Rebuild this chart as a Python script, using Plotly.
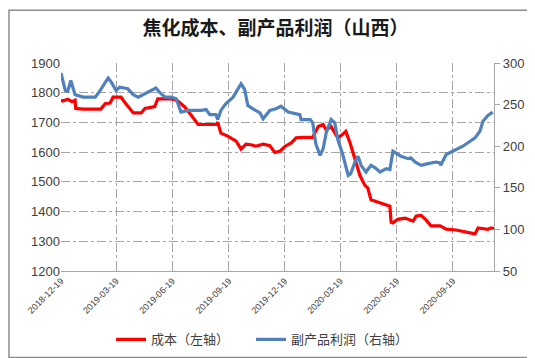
import plotly.graph_objects as go

# ---- data ----
cost_dates = [
    "2018-12-19", "2018-12-22", "2018-12-30", "2019-01-06", "2019-01-11", "2019-01-12",
    "2019-01-24", "2019-02-09", "2019-02-22", "2019-03-01", "2019-03-09", "2019-03-14",
    "2019-03-27", "2019-04-02", "2019-04-11", "2019-04-16", "2019-04-29", "2019-05-05",
    "2019-05-21", "2019-05-26", "2019-06-17", "2019-06-23", "2019-06-28", "2019-07-09",
    "2019-07-19", "2019-07-31", "2019-08-16", "2019-08-29", "2019-09-01", "2019-09-06",
    "2019-09-18", "2019-10-01", "2019-10-09", "2019-10-17", "2019-10-25", "2019-11-02",
    "2019-11-14", "2019-11-25", "2019-12-03", "2019-12-12", "2019-12-20", "2019-12-30",
    "2020-01-07", "2020-01-18", "2020-02-03", "2020-02-12", "2020-02-20", "2020-02-25",
    "2020-03-04", "2020-03-10", "2020-03-15", "2020-03-23", "2020-03-28", "2020-04-04",
    "2020-04-09", "2020-04-14", "2020-04-20", "2020-04-28", "2020-05-03", "2020-05-08",
    "2020-05-16", "2020-05-24", "2020-05-31", "2020-06-08", "2020-06-10", "2020-06-13",
    "2020-06-21", "2020-07-03", "2020-07-11", "2020-07-16", "2020-07-21", "2020-07-29",
    "2020-08-06", "2020-08-14", "2020-08-29", "2020-09-08", "2020-09-24", "2020-10-10",
    "2020-10-25", "2020-10-30", "2020-11-07", "2020-11-15", "2020-11-20", "2020-11-25",
]
cost_values = [
    1775, 1772, 1778, 1770, 1775, 1747,
    1745, 1745, 1745, 1763, 1765, 1785,
    1785, 1768, 1742, 1732, 1732, 1747,
    1753, 1779, 1779, 1777, 1772, 1752,
    1726, 1693, 1693, 1693, 1700, 1664,
    1653, 1637, 1610, 1627, 1625, 1620,
    1627, 1622, 1599, 1604, 1620, 1631,
    1648, 1650, 1650, 1686, 1693, 1675,
    1686, 1664, 1648, 1660, 1670, 1631,
    1599, 1566, 1522, 1489, 1479, 1440,
    1435, 1429, 1423, 1418, 1364, 1362,
    1374, 1378, 1372, 1368, 1385, 1387,
    1372, 1352, 1352, 1341, 1338, 1332,
    1325, 1345, 1343, 1340, 1345, 1343,
]

profit_dates = [
    "2018-12-19", "2018-12-22", "2018-12-26", "2018-12-30", "2019-01-04", "2019-01-11",
    "2019-01-24", "2019-02-13", "2019-02-21", "2019-03-06", "2019-03-11", "2019-03-19",
    "2019-03-25", "2019-04-07", "2019-04-16", "2019-04-24", "2019-05-10", "2019-05-23",
    "2019-05-30", "2019-06-07", "2019-06-17", "2019-06-25", "2019-07-03", "2019-07-14",
    "2019-07-26", "2019-08-05", "2019-08-13", "2019-08-19", "2019-08-29", "2019-09-01",
    "2019-09-06", "2019-09-14", "2019-09-26", "2019-10-01", "2019-10-09", "2019-10-15",
    "2019-10-20", "2019-10-28", "2019-11-09", "2019-11-14", "2019-11-25", "2019-12-05",
    "2019-12-13", "2019-12-25", "2020-01-05", "2020-01-13", "2020-01-15", "2020-01-30",
    "2020-02-03", "2020-02-08", "2020-02-15", "2020-02-20", "2020-02-25", "2020-03-04",
    "2020-03-10", "2020-03-15", "2020-03-23", "2020-04-01", "2020-04-05", "2020-04-12",
    "2020-04-17", "2020-04-22", "2020-04-30", "2020-05-08", "2020-05-15", "2020-05-23",
    "2020-06-02", "2020-06-08", "2020-06-13", "2020-06-18", "2020-06-26", "2020-07-08",
    "2020-07-12", "2020-07-19", "2020-07-29", "2020-08-09", "2020-08-22", "2020-08-29",
    "2020-08-30", "2020-09-08", "2020-09-19", "2020-09-27", "2020-10-05", "2020-10-17",
    "2020-10-25", "2020-11-02", "2020-11-07", "2020-11-15", "2020-11-23",
]
profit_values = [
    288, 279, 267, 266, 279, 262,
    259, 259, 267, 282, 277, 267,
    271, 269, 262, 259, 265, 270,
    264, 259, 259, 257, 241, 243,
    243, 243, 244, 238, 238, 232,
    243, 251, 259, 265, 275, 268,
    249, 245, 240, 233, 243, 245,
    248, 241, 239, 238, 232, 232,
    228, 203, 189, 197, 216, 232,
    228, 208, 190, 165, 167, 181,
    188, 177, 169, 177, 174, 169,
    173, 172, 194, 192, 188, 185,
    186, 181, 177, 179, 181, 180,
    177, 190, 194, 197, 200, 206,
    210, 218, 230, 237, 241,
]

tick_dates = ["2018-12-19", "2019-03-19", "2019-06-19", "2019-09-19",
              "2019-12-19", "2020-03-19", "2020-06-19", "2020-09-19"]
x_start, x_end = "2018-12-19", "2020-11-25"

title_text = "焦化成本、副产品利润（山西）"
name_cost = "成本（左轴）"
name_profit = "副产品利润（右轴）"

# ---- layout constants ----
W, H = 535, 358
ML, MR, MT, MB = 53, 49, 55, 90
PW, PH = W - ML - MR, H - MT - MB
GRID = "#A6A6A6"
AXIS = "#A6A6A6"
TXT = "#404040"
CJK = "Noto Sans CJK SC"

fig = go.Figure()
fig.add_trace(go.Scatter(x=cost_dates, y=cost_values, name=name_cost, mode="lines",
                         line=dict(color="#FF0000", width=3.2), yaxis="y", legend="legend"))
fig.add_trace(go.Scatter(x=profit_dates, y=profit_values, name=name_profit, mode="lines",
                         line=dict(color="#4F81BD", width=3.2), yaxis="y2", legend="legend2"))

leg_y = -(338 - (MT + PH)) / PH
leg_common = dict(orientation="h", xanchor="left", y=leg_y, yanchor="middle",
                  font=dict(family=CJK, size=13, color=TXT), itemwidth=30,
                  bgcolor="rgba(0,0,0,0)")

fig.update_layout(
    width=W, height=H,
    margin=dict(l=ML, r=MR, t=MT, b=MB, pad=0),
    paper_bgcolor="white", plot_bgcolor="white",
    title=dict(text="<b>" + title_text + "</b>", x=0.5, xref="container", xanchor="center",
               y=1 - 20 / H, yref="container", yanchor="middle",
               font=dict(family=CJK, size=19, color="#1a1a1a")),
    showlegend=True,
    legend=dict(x=(103 - ML) / PW, **leg_common),
    legend2=dict(x=(243 - ML) / PW, **leg_common),
    xaxis=dict(type="date", range=[x_start, x_end],
               tickmode="array", tickvals=tick_dates, ticktext=tick_dates,
               tickangle=-45, tickfont=dict(family="Liberation Sans", size=9, color=TXT),
               showgrid=True, gridcolor=GRID, griddash="dashdot", gridwidth=1,
               showline=True, linecolor=AXIS, linewidth=1.3,
               ticks="inside", ticklen=5, tickcolor=AXIS, zeroline=False),
    yaxis=dict(range=[1200, 1900], dtick=100, tick0=1200,
               tickfont=dict(family="Liberation Sans", size=13, color=TXT),
               showgrid=True, gridcolor=GRID, griddash="dashdot", gridwidth=1,
               showline=False, ticks="inside", ticklen=4, tickcolor=AXIS,
               zeroline=False),
    yaxis2=dict(range=[50, 300], dtick=50, tick0=50, overlaying="y", side="right",
                tickfont=dict(family="Liberation Sans", size=13, color=TXT),
                showgrid=False, showline=True, linecolor=AXIS, linewidth=1.3,
                ticks="outside", ticklen=5, tickcolor=AXIS, zeroline=False),
)

# outer chart frame
fig.add_shape(type="rect", xref="paper", yref="paper",
              x0=-(ML - 1) / PW, x1=1 + (MR - 1.5) / PW,
              y0=-(MB - 1.5) / PH, y1=1 + (MT - 1) / PH,
              line=dict(color="#8C8C8C", width=1.5), fillcolor="rgba(0,0,0,0)", layer="below")

fig.write_html("out.html")
